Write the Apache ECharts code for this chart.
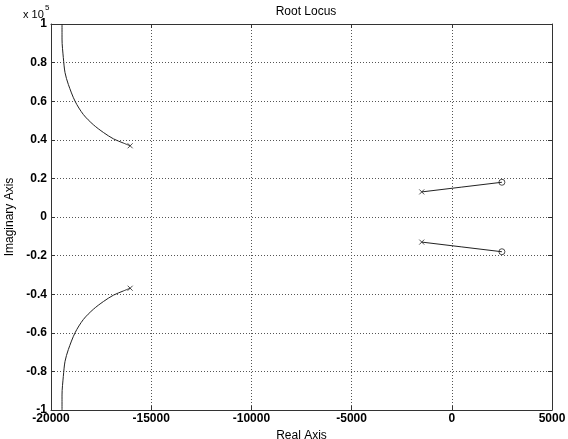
<!DOCTYPE html>
<html>
<head>
<meta charset="UTF-8">
<title>Root Locus</title>
<script src="https://cdn.jsdelivr.net/npm/echarts@6/dist/echarts.min.js"></script>
<style>
  html, body { margin: 0; padding: 0; background: #fff; }
  #main { width: 568px; height: 439px; }
</style>
</head>
<body>
<div id="main"></div>
<script>
// branch going up from the left pole towards +j infinity
var upperReal = [-19450, -19450, -19385, -19300, -19135, -18800, -18385, -17885, -17385, -16885, -16385, -16050];
var upperImag = [100000, 92200, 82600, 74800, 68700, 60000, 53100, 47800, 43800, 40500, 38300, 36900];
// mirror branch
var lowerReal = upperReal;
var lowerImag = upperImag.map(function (v) { return -v; });

// short branches pole -> zero on the right
var rightUpperReal = [-1500, 500, 2500];
var rightUpperImag = [13000, 15500, 18000];
var rightLowerReal = [-1500, 500, 2500];
var rightLowerImag = [-13000, -15500, -18000];

var poles = [[-16050, 36900], [-16050, -36900], [-1500, 13000], [-1500, -13000]];
var zeros = [[2500, 18000], [2500, -18000]];

var xTicks = [-20000, 5000, 5000]; // min, max, step
var yTicks = [-100000, 100000, 20000];

function pairs(xs, ys) {
  var out = [];
  for (var i = 0; i < xs.length; i++) out.push([xs[i], ys[i]]);
  return out;
}

var myChart = echarts.init(document.getElementById('main'));
var font = 'Liberation Sans';
var gridLine = { show: true, lineStyle: { color: '#555', type: [1, 2], width: 1 } };
var axisLine = { show: true, onZero: false, lineStyle: { color: '#333', width: 1 } };
var tick = { show: true, inside: true, length: 4, lineStyle: { color: '#333' } };

var lineStyle = { color: '#222', width: 1 };

var option = {
  backgroundColor: '#fff',
  animation: false,
  title: {
    text: 'Root Locus',
    left: 301, top: 1, textAlign: 'center',
    textStyle: { fontFamily: font, fontSize: 12, fontWeight: 'normal', color: '#000' }
  },
  grid: { left: 51, right: 16, top: 24, bottom: 29, outerBoundsMode: 'none' },
  xAxis: [{
    type: 'value', min: xTicks[0], max: xTicks[1], interval: xTicks[2],
    name: 'Real Axis', nameLocation: 'middle', nameGap: 19,
    nameTextStyle: { fontFamily: font, fontSize: 12, color: '#000' },
    axisLine: axisLine, axisTick: tick,
    axisLabel: {
      fontFamily: font, fontSize: 12, color: '#000', fontWeight: 'bold', margin: 3,
      formatter: function (v) { return String(v); }
    },
    splitLine: gridLine
  }, {
    type: 'value', position: 'top', min: xTicks[0], max: xTicks[1], interval: xTicks[2],
    axisLine: axisLine, axisTick: tick,
    axisLabel: { show: false }, splitLine: { show: false }
  }],
  yAxis: [{
    type: 'value', min: yTicks[0], max: yTicks[1], interval: yTicks[2],
    name: 'Imaginary Axis', nameLocation: 'middle', nameGap: 34, nameRotate: 90,
    nameTextStyle: { fontFamily: font, fontSize: 12, color: '#000' },
    axisLine: axisLine, axisTick: tick,
    axisLabel: {
      fontFamily: font, fontSize: 12, color: '#000', fontWeight: 'bold', margin: 4,
      formatter: function (v) { return String(Math.round(v / 1e4) / 10); }
    },
    splitLine: gridLine
  }, {
    type: 'value', position: 'right', min: yTicks[0], max: yTicks[1], interval: yTicks[2],
    axisLine: axisLine, axisTick: tick,
    axisLabel: { show: false }, splitLine: { show: false }
  }],
  graphic: [
    { type: 'text', left: 23, top: 9, style: { text: 'x 10', font: '11px "Liberation Sans"', fill: '#000' } },
    { type: 'text', left: 45, top: 4, style: { text: '5', font: '8px "Liberation Sans"', fill: '#000' } }
  ],
  series: [
    { type: 'line', data: pairs(upperReal, upperImag), smooth: 0.3, showSymbol: false, lineStyle: lineStyle },
    { type: 'line', data: pairs(lowerReal, lowerImag), smooth: 0.3, showSymbol: false, lineStyle: lineStyle },
    { type: 'line', data: pairs(rightUpperReal, rightUpperImag), showSymbol: false, lineStyle: lineStyle },
    { type: 'line', data: pairs(rightLowerReal, rightLowerImag), showSymbol: false, lineStyle: lineStyle },
    {
      type: 'scatter', data: poles, symbol: 'path://M0,0L10,10M10,0L0,10', symbolSize: 5,
      itemStyle: { color: 'none', borderColor: '#222', borderWidth: 1 }
    },
    {
      type: 'scatter', data: zeros, symbol: 'circle', symbolSize: 6,
      itemStyle: { color: '#fff', borderColor: '#222', borderWidth: 1 }
    }
  ]
};

myChart.setOption(option);
</script>
</body>
</html>
